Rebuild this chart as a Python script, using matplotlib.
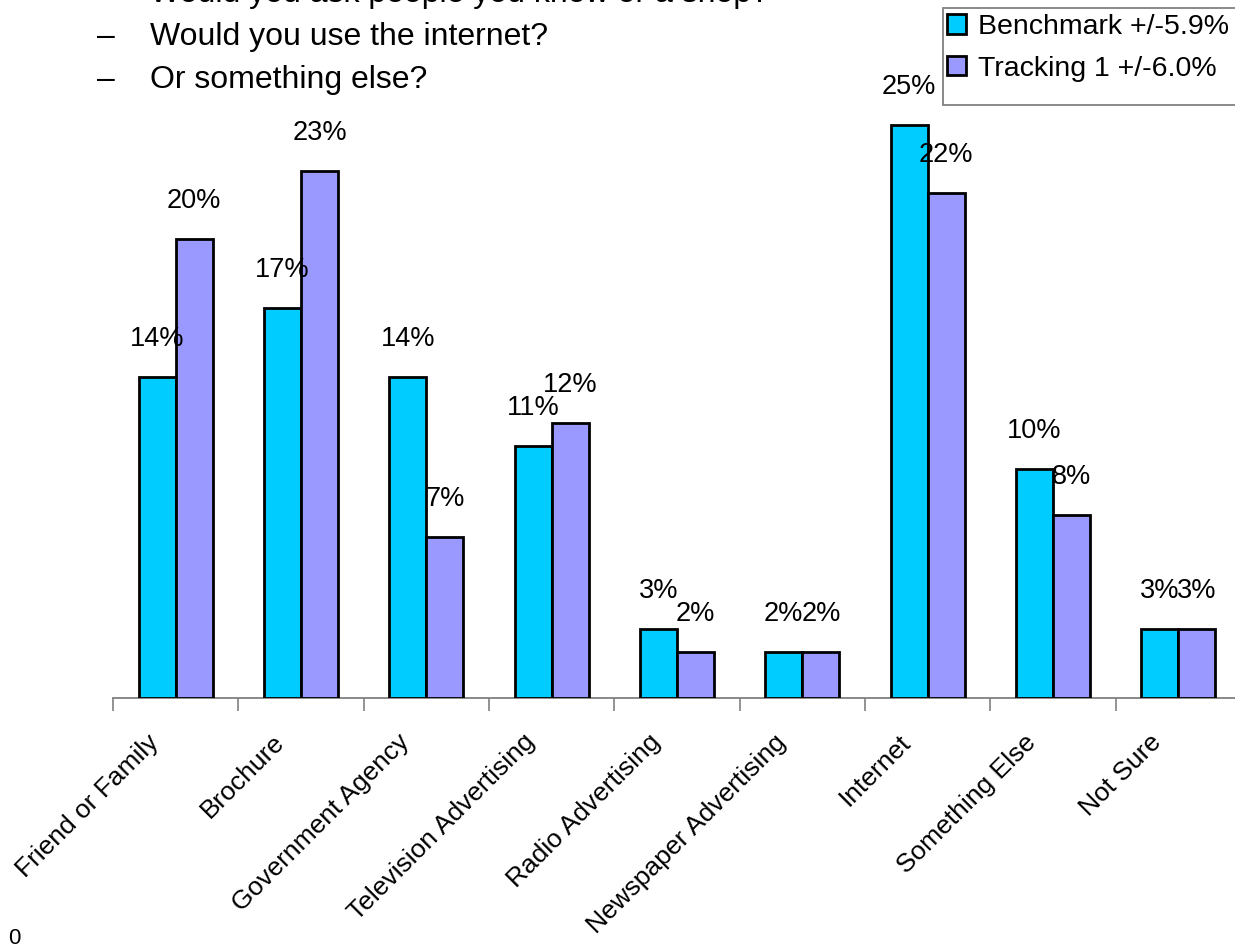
import matplotlib
matplotlib.use("Agg")
import matplotlib.pyplot as plt
import matplotlib.transforms as mtransforms
from matplotlib.patches import Rectangle
import numpy as np

plt.rcParams['font.family'] = ['Liberation Sans', 'DejaVu Sans']

categories = ["Friend or Family", "Brochure", "Government Agency",
              "Television Advertising", "Radio Advertising",
              "Newspaper Advertising", "Internet", "Something Else", "Not Sure"]
benchmark = [14, 17, 14, 11, 3, 2, 25, 10, 3]
tracking = [20, 23, 7, 12, 2, 2, 22, 8, 3]
series_names = ["Benchmark +/-5.9%", "Tracking 1 +/-6.0%"]
colors = ["#00CCFF", "#9999FF"]

W, H = 1235, 947
fig = plt.figure(figsize=(W / 100, H / 100), dpi=100)

# axes placed in pixel terms, right edge runs a bit past the figure (clipped in original)
left_px, right_px, base_px, top_px = 113, 1241, 698, 10
ax = fig.add_axes([left_px / W, (H - base_px) / H,
                   (right_px - left_px) / W, (base_px - top_px) / H])

n = len(categories)
x = np.arange(n) + 0.5
bw = 0.296
for i, (vals, c) in enumerate(zip([benchmark, tracking], colors)):
    xs = x + (i - 0.5) * bw
    ax.bar(xs, vals, bw, color=c, edgecolor="black", linewidth=2,
           label=series_names[i], zorder=3)
    for xi, v in zip(xs, vals):
        ax.annotate(f"{v}%", (xi, v), xytext=(0, 18), textcoords="offset points",
                    ha="center", va="bottom", fontsize=19.5, zorder=4)

ax.set_xlim(0, n)
ax.set_ylim(0, 30)
ax.set_xticks(np.arange(n + 1), [""] * (n + 1))
ax.set_xticks(x, categories, minor=True, rotation=45, ha="right",
              rotation_mode="anchor", fontsize=19)
ax.tick_params(axis="x", which="major", length=9, width=1.2, color="#808080",
               direction="out")
ax.tick_params(axis="x", which="minor", length=0, pad=23)
shift = mtransforms.ScaledTranslation(-29 / 100, 0, fig.dpi_scale_trans)
for lbl in ax.get_xticklabels(minor=True):
    lbl.set_va("top")
    lbl.set_transform(lbl.get_transform() + shift)
ax.set_yticks([])
for s in ["left", "right", "top"]:
    ax.spines[s].set_visible(False)
ax.spines["bottom"].set_color("#808080")
ax.spines["bottom"].set_linewidth(1.3)

# header text (slide bullets, first one cut off at the top)
header = ["Would you ask people you know or a shop?",
          "Would you use the internet?",
          "Or something else?"]
for yc, line in zip([-6, 37, 80], header):
    fig.text(97 / W, 1 - yc / H, "–", fontsize=23, va="center", ha="left")
    fig.text(150 / W, 1 - yc / H, line, fontsize=23, va="center", ha="left")
fig.text(8 / W, 1 - 928 / H, "0", fontsize=16, ha="left", va="top")

# legend, frame runs past the right edge like the original
fig.patches.append(Rectangle((943 / W, 1 - 105 / H), 320 / W, 97 / H,
                             transform=fig.transFigure, facecolor="white",
                             edgecolor="#808080", linewidth=1.3, zorder=5))
leg = fig.legend(loc="upper left", bbox_to_anchor=(947 / W, 1 - 14 / H),
                 fontsize=20.5, frameon=False,
                 handlelength=0.65, handleheight=0.65, handletextpad=0.45,
                 borderpad=0, labelspacing=0.55, borderaxespad=0)
leg.set_zorder(6)

fig.savefig("out.png", dpi=100)
